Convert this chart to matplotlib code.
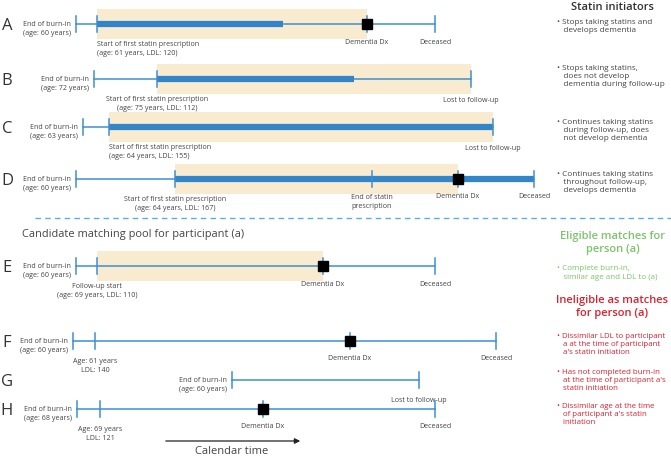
import matplotlib.pyplot as plt
from matplotlib.patches import Rectangle

plt.rcParams['font.family'] = ['Open Sans', 'DejaVu Sans']

# Dados das linhas do tempo (tempo de calendário, unidades do eixo)
rows = ["A", "B", "C", "D", "E", "F", "G", "H"]
row_y = [24, 79, 127, 179, 266, 341, 380, 409]
burnin_end = [76, 94, 83, 76, 76, 73, 232, 77]
burnin_age = [60, 72, 63, 60, 60, 60, 60, 68]
start_t = [97, 157, 109, 175, 97, 95, None, 100]
start_age = [61, 75, 64, 64, 69, 61, None, 69]
start_ldl = [120, 112, 155, 167, 110, 140, None, 121]
statin_end = [283, 354, 493, 534, None, None, None, None]
dementia_t = [367, None, None, 458, 323, 350, None, 263]
exit_t = [435, 471, 493, 534, 435, 496, 419, 435]
exit_label = ["Deceased", "Lost to follow-up", "Lost to follow-up", "Deceased",
              "Deceased", "Deceased", "Lost to follow-up", "Deceased"]
shade_end = [367, 471, 493, 458, 323, None, None, None]
stop_statin_t = [None, None, None, 372, None, None, None, None]

initiator_notes = [
    "• Stops taking statins and\n   develops dementia",
    "• Stops taking statins,\n   does not develop\n   dementia during follow-up",
    "• Continues taking statins\n   during follow-up, does\n   not develop dementia",
    "• Continues taking statins\n   throughout follow-up,\n   develops dementia",
]
note_y = [27, 77, 130, 183]
red_notes = [
    "• Dissimilar LDL to participant\n   a at the time of participant\n   a's statin initiation",
    "• Has not completed burn-in\n   at the time of participant a's\n   statin initiation",
    "• Dissimilar age at the time\n   of participant a's statin\n   initiation",
]
red_y = [345, 380, 415]

LINE = '#3d8fd1'
BAR = '#3285c8'
SHADE = '#f9ebcf'
TXT = '#444444'
GREEN = '#7cc36a'
RED = '#d8232f'

fig = plt.figure(figsize=(6.71, 4.57), dpi=100)
ax = fig.add_axes([0, 0, 1, 1])
ax.set_xlim(0, 671)
ax.set_ylim(457, 0)
ax.axis('off')

small = 5.15
half = 8

for i, r in enumerate(rows):
    y = row_y[i]
    x0 = burnin_end[i]
    x1 = exit_t[i]

    # área sombreada do seguimento
    if shade_end[i] is not None:
        ax.add_patch(Rectangle((start_t[i], y - 15), shade_end[i] - start_t[i], 30,
                               facecolor=SHADE, edgecolor='none', zorder=0))

    # linha fina
    ax.plot([x0, x1], [y, y], color=LINE, lw=1.1, zorder=2)

    # barra grossa de estatina
    if statin_end[i] is not None:
        ax.plot([start_t[i], statin_end[i]], [y, y], color=BAR, lw=4.5,
                solid_capstyle='butt', zorder=3)

    # marcas verticais
    ticks = [x0, x1]
    if start_t[i] is not None:
        ticks.append(start_t[i])
    if stop_statin_t[i] is not None:
        ticks.append(stop_statin_t[i])
    if dementia_t[i] is not None:
        ticks.append(dementia_t[i])
    for t in ticks:
        ax.plot([t, t], [y - half, y + half], color=LINE, lw=1.1, zorder=4)

    if dementia_t[i] is not None:
        ax.plot(dementia_t[i], y, marker='s', color='black', ms=7.5, zorder=5)
        ax.text(dementia_t[i], y + 18, "Dementia Dx", ha='center', va='center',
                fontsize=small, color=TXT)

    # letra da linha
    ax.text(7, y + 2, r, ha='center', va='center', fontsize=12, color='#333333')

    # rótulo do fim do burn-in
    ax.text(x0 - 5, y + 5, f"End of burn-in\n(age: {burnin_age[i]} years)",
            ha='right', va='center', fontsize=small, color=TXT, linespacing=1.4)

    # rótulo da saída
    dy = 21 if r in ("B", "C", "G") else 18
    ax.text(x1, y + dy, exit_label[i], ha='center', va='center',
            fontsize=small, color=TXT)

    # rótulo do início
    if start_t[i] is not None:
        if r in ("A", "B", "C", "D"):
            txt = (f"Start of first statin prescription\n"
                   f"(age: {start_age[i]} years, LDL: {start_ldl[i]})")
        elif r == "E":
            txt = f"Follow-up start\n(age: {start_age[i]} years, LDL: {start_ldl[i]})"
        else:
            txt = f"Age: {start_age[i]} years\nLDL: {start_ldl[i]}"
        if r in ("A", "C"):
            ax.text(start_t[i], y + 25, txt, ha='left', va='center',
                    fontsize=small, color=TXT, linespacing=1.4)
        else:
            ax.text(start_t[i], y + 25, txt, ha='center', va='center',
                    fontsize=small, color=TXT, linespacing=1.4,
                    multialignment='center')

    if stop_statin_t[i] is not None:
        ax.text(stop_statin_t[i], y + 23, "End of statin\nprescription", ha='center',
                va='center', fontsize=small, color=TXT, linespacing=1.4)

# separador tracejado
ax.plot([35, 671], [218, 218], color='#5aaee0', lw=1.0, ls=(0, (4, 3)))

ax.text(22, 235, "Candidate matching pool for participant (a)", ha='left',
        va='center', fontsize=7.9, color=TXT)

# seta do tempo de calendário
ax.annotate("", xy=(303, 441), xytext=(163, 441),
            arrowprops=dict(arrowstyle='-|>', color='#222222', lw=0.9,
                            mutation_scale=8))
ax.text(232, 452, "Calendar time", ha='center', va='center', fontsize=8,
        color=TXT)

# painel da direita
ax.text(612, 8, "Statin initiators", ha='center', va='center', fontsize=8.0,
        color='#333333', fontweight='semibold')
for note, ny in zip(initiator_notes, note_y):
    ax.text(557, ny, note, ha='left', va='center', fontsize=5.9, color=TXT,
            linespacing=1.2)

ax.text(613, 243, "Eligible matches for\nperson (a)", ha='center', va='center',
        fontsize=8.0, color=GREEN, fontweight='semibold', linespacing=1.2)
ax.text(557, 273, "• Complete burn-in,\n   similar age and LDL to (a)", ha='left',
        va='center', fontsize=5.8, color=GREEN, linespacing=1.25)
ax.text(612, 307, "Ineligible as matches\nfor person (a)", ha='center',
        va='center', fontsize=8.0, color=RED, fontweight='semibold',
        linespacing=1.2)
for note, ny in zip(red_notes, red_y):
    ax.text(557, ny, note, ha='left', va='center', fontsize=5.7, color=RED,
            linespacing=1.2)

fig.savefig("out.png", dpi=100)
